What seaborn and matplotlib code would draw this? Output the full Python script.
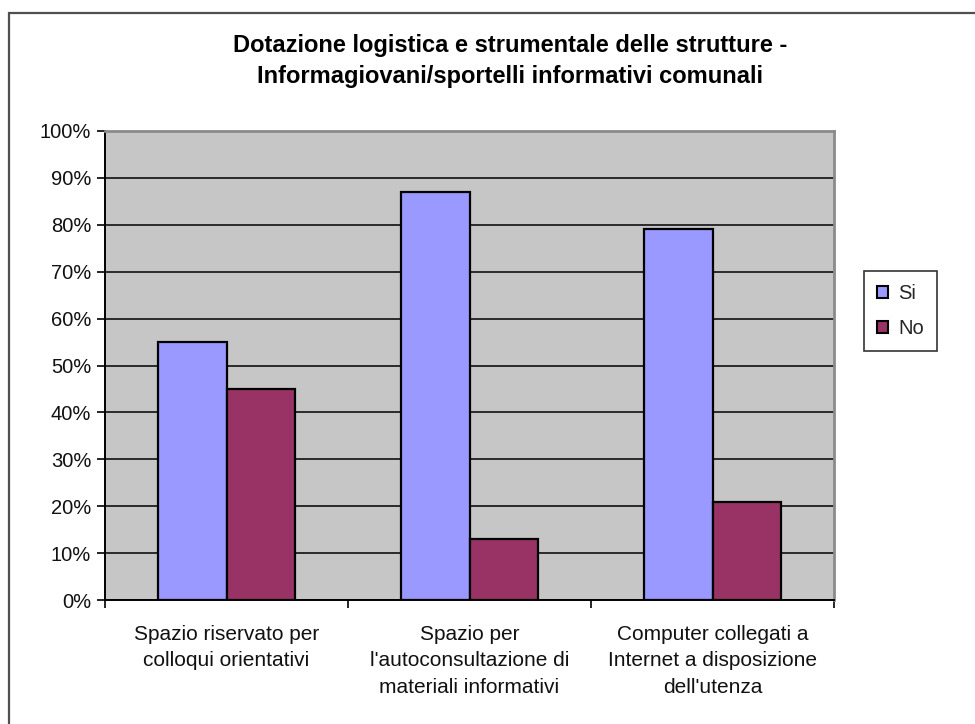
import matplotlib
matplotlib.use("Agg")
import matplotlib.pyplot as plt
from matplotlib.patches import Patch, Rectangle
from matplotlib.ticker import PercentFormatter, FixedLocator
import seaborn as sns
import pandas as pd

categories = [
    "Spazio riservato per\ncolloqui orientativi",
    "Spazio per\nl'autoconsultazione di\nmateriali informativi",
    "Computer collegati a\nInternet a disposizione\ndell'utenza",
]
series = ["Si", "No"]
si_values = [55, 87, 79]
no_values = [45, 13, 21]
y_ticks = [0, 10, 20, 30, 40, 50, 60, 70, 80, 90, 100]
title = "Dotazione logistica e strumentale delle strutture -\nInformagiovani/sportelli informativi comunali"

colors = {"Si": "#9999FF", "No": "#993366"}

df = pd.DataFrame({
    "categoria": categories * 2,
    "serie": [series[0]] * 3 + [series[1]] * 3,
    "valore": si_values + no_values,
})

sns.set_style("white")
plt.rcParams["font.family"] = ["Liberation Sans", "DejaVu Sans"]

fig = plt.figure(figsize=(9.75, 7.24), dpi=100)
ax = fig.add_axes([105 / 975, 1 - 600 / 724, (834 - 105) / 975, (600 - 131) / 724])
ax.set_facecolor("#C6C6C6")

sns.barplot(data=df, x="categoria", y="valore", hue="serie", order=categories,
            hue_order=series, palette=colors, width=0.567, edgecolor="black",
            linewidth=1.6, saturation=1, ax=ax, legend=False, zorder=3)

ax.set_xlim(-0.5, 2.5)
ax.set_ylim(0, 100)
ax.set_yticks(y_ticks)
ax.yaxis.set_major_formatter(PercentFormatter(decimals=0))
ax.yaxis.grid(True, color="black", linewidth=1.1, zorder=1)
ax.set_axisbelow(True)
ax.set_xlabel("")
ax.set_ylabel("")

ax.tick_params(axis="y", direction="out", length=6, width=1.2, color="black",
               labelsize=14.5, pad=4, left=True)
ax.tick_params(axis="x", which="major", length=0, labelsize=15, pad=18)
ax.xaxis.set_minor_locator(FixedLocator([-0.5, 0.5, 1.5, 2.5]))
ax.tick_params(axis="x", which="minor", direction="out", length=6, width=1.2,
               color="black", bottom=True)
for lab in ax.get_xticklabels():
    lab.set_linespacing(1.5)
for lab in ax.get_yticklabels() + ax.get_xticklabels():
    lab.set_color("#111111")

for side in ["left", "bottom"]:
    ax.spines[side].set_color("black")
    ax.spines[side].set_linewidth(1.4)
for side in ["top", "right"]:
    ax.spines[side].set_color("#8A8A8A")
    ax.spines[side].set_linewidth(2)

fig.text(510 / 975, 1 - 61 / 724, title, ha="center", va="center",
         fontsize=17, fontweight="bold", linespacing=1.42, color="black")

handles = [Patch(facecolor=colors[s], edgecolor="black", linewidth=1.5, label=s)
           for s in series]
leg = fig.legend(handles=handles, loc="center left",
                 bbox_to_anchor=(864 / 975, 1 - 311 / 724), frameon=True,
                 fontsize=14.5, handlelength=0.55, handleheight=0.55,
                 handletextpad=0.5, labelspacing=0.8, borderpad=0.65,
                 borderaxespad=0, fancybox=False, edgecolor="black")
leg.get_frame().set_linewidth(1.2)

fig.patches.append(Rectangle((9 / 975, -0.05), 1.2, 1 - 13 / 724 + 0.05,
                             transform=fig.transFigure, fill=False,
                             edgecolor="#505050", linewidth=1.6))

fig.savefig("out.png", dpi=100, facecolor="white")
